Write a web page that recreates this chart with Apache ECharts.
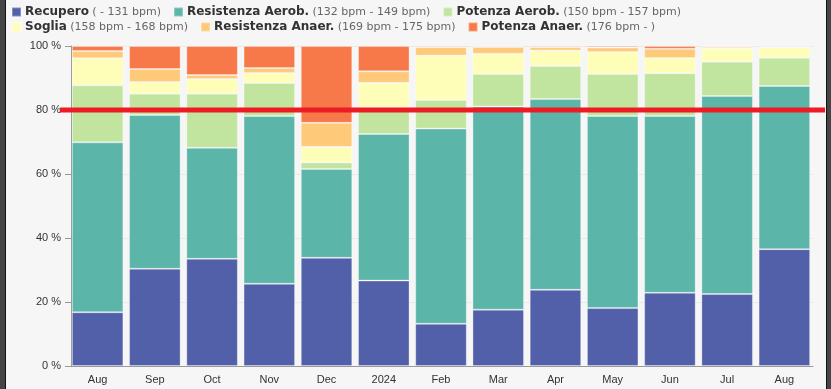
<!DOCTYPE html>
<html>
<head>
<meta charset="utf-8">
<script src="https://cdn.jsdelivr.net/npm/echarts@6/dist/echarts.min.js"></script>
<style>
  html, body { margin: 0; padding: 0; width: 831px; height: 389px; overflow: hidden; background: #f6f6f6; }
  #stripL { position: absolute; left: 0; top: 0; width: 5px; height: 389px; background: #454545; border-right: 1px solid #111; }
  #stripR { position: absolute; left: 826px; top: 0; width: 5px; height: 389px; background: #454545; border-left: 1px solid #111; }
  #chart { position: absolute; left: 0; top: 0; width: 831px; height: 389px; }
</style>
</head>
<body>
<div id="stripL"></div>
<div id="stripR"></div>
<div id="chart"></div>
<script>
const categories = ['Aug', 'Sep', 'Oct', 'Nov', 'Dec', '2024', 'Feb', 'Mar', 'Apr', 'May', 'Jun', 'Jul', 'Aug'];
const zoneNames = ['Recupero', 'Resistenza Aerob.', 'Potenza Aerob.', 'Soglia', 'Resistenza Anaer.', 'Potenza Anaer.'];
const zoneRanges = ['( - 131 bpm)', '(132 bpm - 149 bpm)', '(150 bpm - 157 bpm)', '(158 bpm - 168 bpm)', '(169 bpm - 175 bpm)', '(176 bpm - )'];
const recupero        = [16.8, 30.4, 33.5, 25.7, 33.8, 26.7, 13.2, 17.6, 23.8, 18.1, 22.9, 22.5, 36.5];
const resistenzaAerob = [53.1, 48.0, 34.7, 52.4, 27.8, 45.8, 61.0, 63.5, 59.6, 60.0, 55.2, 61.9, 51.0];
const potenzaAerob    = [17.8, 6.7, 16.9, 10.3, 2.0, 8.3, 8.9, 10.15, 10.35, 13.15, 13.4, 10.7, 8.8];
const soglia          = [8.5, 3.65, 4.6, 3.2, 4.9, 7.7, 13.9, 6.35, 4.85, 6.85, 4.75, 4.2, 3.2];
const resistenzaAnaer = [2.2, 4.05, 1.2, 1.5, 7.5, 3.6, 2.6, 2.1, 1.0, 1.4, 2.9, 0.5, 0.4];
const potenzaAnaer    = [1.6, 7.2, 9.1, 6.9, 24.0, 7.9, 0.4, 0.3, 0.4, 0.5, 0.85, 0.2, 0.1];
const yTicks = [0, 20, 40, 60, 80, 100];
const thresholdLevel = [80];

const seriesValues = [recupero, resistenzaAerob, potenzaAerob, soglia, resistenzaAnaer, potenzaAnaer];
const colors = ['#525fa9', '#5cb5a9', '#c1e59e', '#fefeb9', '#fec979', '#f77849'];

const chart = echarts.init(document.getElementById('chart'), null, { renderer: 'canvas' });

const legendBase = {
  left: 11,
  itemWidth: 9,
  itemHeight: 9,
  itemGap: 12,
  icon: 'rect',
  padding: 0,
  selectedMode: false,
  formatter: function (name) {
    const i = zoneNames.indexOf(name);
    return '{b|' + name + '} {n|' + zoneRanges[i] + '}';
  },
  textStyle: {
    padding: [0, 0, 0, -1],
    rich: {
      b: { fontFamily: 'DejaVu Sans', fontWeight: 'bold', fontSize: 12, color: '#333333' },
      n: { fontFamily: 'DejaVu Sans', fontSize: 11, color: '#666666' }
    }
  }
};

const barSeries = zoneNames.map(function (name, i) {
  return {
    name: name,
    type: 'bar',
    stack: 'zones',
    xAxisIndex: 0,
    yAxisIndex: 0,
    barCategoryGap: '10%',
    data: seriesValues[i],
    itemStyle: { color: colors[i], borderColor: 'rgba(255,255,255,0.3)', borderWidth: 1 },
    emphasis: { disabled: true },
    animation: false
  };
});

const option = {
  backgroundColor: 'transparent',
  animation: false,
  color: colors,
  legend: [
    Object.assign({}, legendBase, { top: 6, data: zoneNames.slice(0, 3) }),
    Object.assign({}, legendBase, { top: 21, data: zoneNames.slice(3, 6) })
  ],
  grid: [
    { left: 69, right: 18, top: 46, bottom: 23 },
    { left: 60, right: 6, top: 46, bottom: 23 }
  ],
  xAxis: [
    {
      type: 'category',
      gridIndex: 0,
      data: categories,
      axisLine: { lineStyle: { color: '#9a9a9a' } },
      axisTick: { alignWithLabel: true, length: 5, lineStyle: { color: '#9a9a9a' } },
      axisLabel: { color: '#333333', fontFamily: 'Liberation Sans', fontSize: 11, margin: 8 }
    },
    { type: 'value', gridIndex: 1, min: 0, max: 1, show: false }
  ],
  yAxis: [
    {
      type: 'value',
      gridIndex: 0,
      min: yTicks[0],
      max: yTicks[yTicks.length - 1],
      interval: yTicks[1] - yTicks[0],
      offset: -2,
      axisLine: { show: true, lineStyle: { color: '#9a9a9a' } },
      axisTick: { show: true, length: 6, lineStyle: { color: '#9a9a9a' } },
      axisLabel: { color: '#333333', fontFamily: 'Liberation Sans', fontSize: 11, margin: 10, formatter: '{value} %' },
      splitLine: { lineStyle: { color: '#e9e9e9' } }
    },
    { type: 'value', gridIndex: 1, min: 0, max: 100, show: false }
  ],
  series: barSeries.concat([
    {
      name: 'threshold',
      type: 'line',
      xAxisIndex: 1,
      yAxisIndex: 1,
      data: [[0, thresholdLevel[0]], [1, thresholdLevel[0]]],
      symbol: 'none',
      lineStyle: { color: '#ed1c24', width: 5 },
      z: 10,
      silent: true,
      animation: false
    }
  ])
};

chart.setOption(option);
</script>
</body>
</html>
